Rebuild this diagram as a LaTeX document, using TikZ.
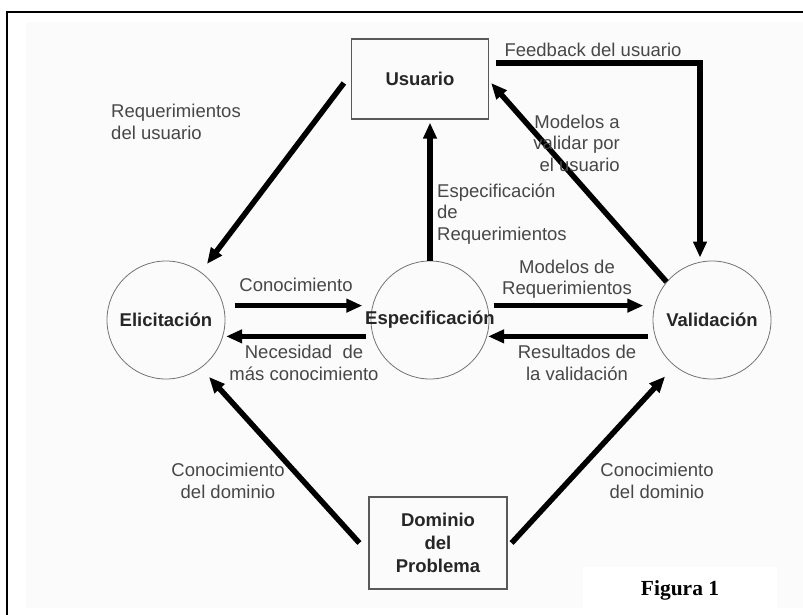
\documentclass[tikz,border=0pt]{standalone}
\usepackage{fontspec}
\setmainfont{Liberation Sans}
\newfontfamily\figfont{Liberation Serif}
\usetikzlibrary{arrows.meta}

\begin{document}
\begin{tikzpicture}[x=1pt,y=-1pt,
txt/.style={text=black!72,font=\fontsize{18.5}{21.5}\selectfont,align=center,inner sep=0pt},
bold/.style={txt,text=black!85,font=\fontsize{18.5}{23}\selectfont\bfseries},
circ/.style={circle,draw=black!55,line width=0.8pt,minimum size=118pt,inner sep=0pt},
caja/.style={draw=black!65,line width=1.2pt},
flecha/.style={line width=5.5pt,-{Triangle[length=16pt,width=13pt]}}]
\useasboundingbox(0,0)rectangle(803,615);
% marco y fondo
\fill[black!1.5](26,22)rectangle(803,608);
\fill[white](583,567)rectangle(777,610);
\draw[line width=2pt](7,615)--(7,12)--(803,12);
% nodos
\node[caja,bold,minimum width=137pt,minimum height=80pt](usr)at(420,79){Usuario};
\node[caja,bold,minimum width=138pt,minimum height=92pt](dom)at(438,543){Dominio\\del\\Problema};
\node[circ](eli)at(166,320){};\node[bold]at(eli){Elicitación};
\node[circ](esp)at(430,320){};\node[bold]at(esp){Especificación};
\node[circ](val)at(712,320){};\node[bold]at(val){Validación};
\coordinate(fb)at(700,63);
% flechas
\draw[flecha,shorten >=10pt]([shift={(-7,4)}]usr.west)--(eli.54);
\draw[flecha,shorten >=3pt](esp.north)--(esp.north|-usr.south);
\draw[flecha](val.140)--([shift={(2,4)}]usr.east);
\draw[flecha,shorten >=3pt]([shift={(7,-16)}]usr.east)--(fb)--(fb|-val.north);
\draw[flecha,shorten <=11pt,shorten >=10pt](eli.14)--(esp.166);
\draw[flecha,shorten <=7pt,shorten >=3pt](esp.196)--(eli.-16);
\draw[flecha,shorten <=6pt,shorten >=11pt](esp.14)--(val.166);
\draw[flecha,shorten <=7pt,shorten >=1pt](val.196)--(esp.-16);
\draw[flecha,shorten >=12pt]([xshift=-9pt]dom.west)--(eli.-54);
\draw[flecha,shorten >=14pt]([xshift=4pt]dom.east)--(val.-129);
% textos
\node[txt,align=left]at(176,122){Requerimientos\\del usuario};
\node[txt]at(593,50){Feedback del usuario};
\node[txt,align=right,anchor=east]at(620,143){Modelos a\\validar por\\el usuario};
\node[txt,align=left,anchor=west]at(437,214){Especificación\\de\\Requerimientos};
\node[txt]at(296,285){Conocimiento};
\node[txt]at(304,363){Necesidad \ de\\más conocimiento};
\node[txt]at(567,279){Modelos de\\Requerimientos};
\node[txt]at(577,363){Resultados de\\la validación};
\node[txt]at(228,481){Conocimiento\\del dominio};
\node[txt]at(657,481){Conocimiento\\del dominio};
\node[font=\figfont\bfseries\fontsize{21.5}{24}\selectfont]at(680,590){Figura 1};
\end{tikzpicture}
\end{document}
